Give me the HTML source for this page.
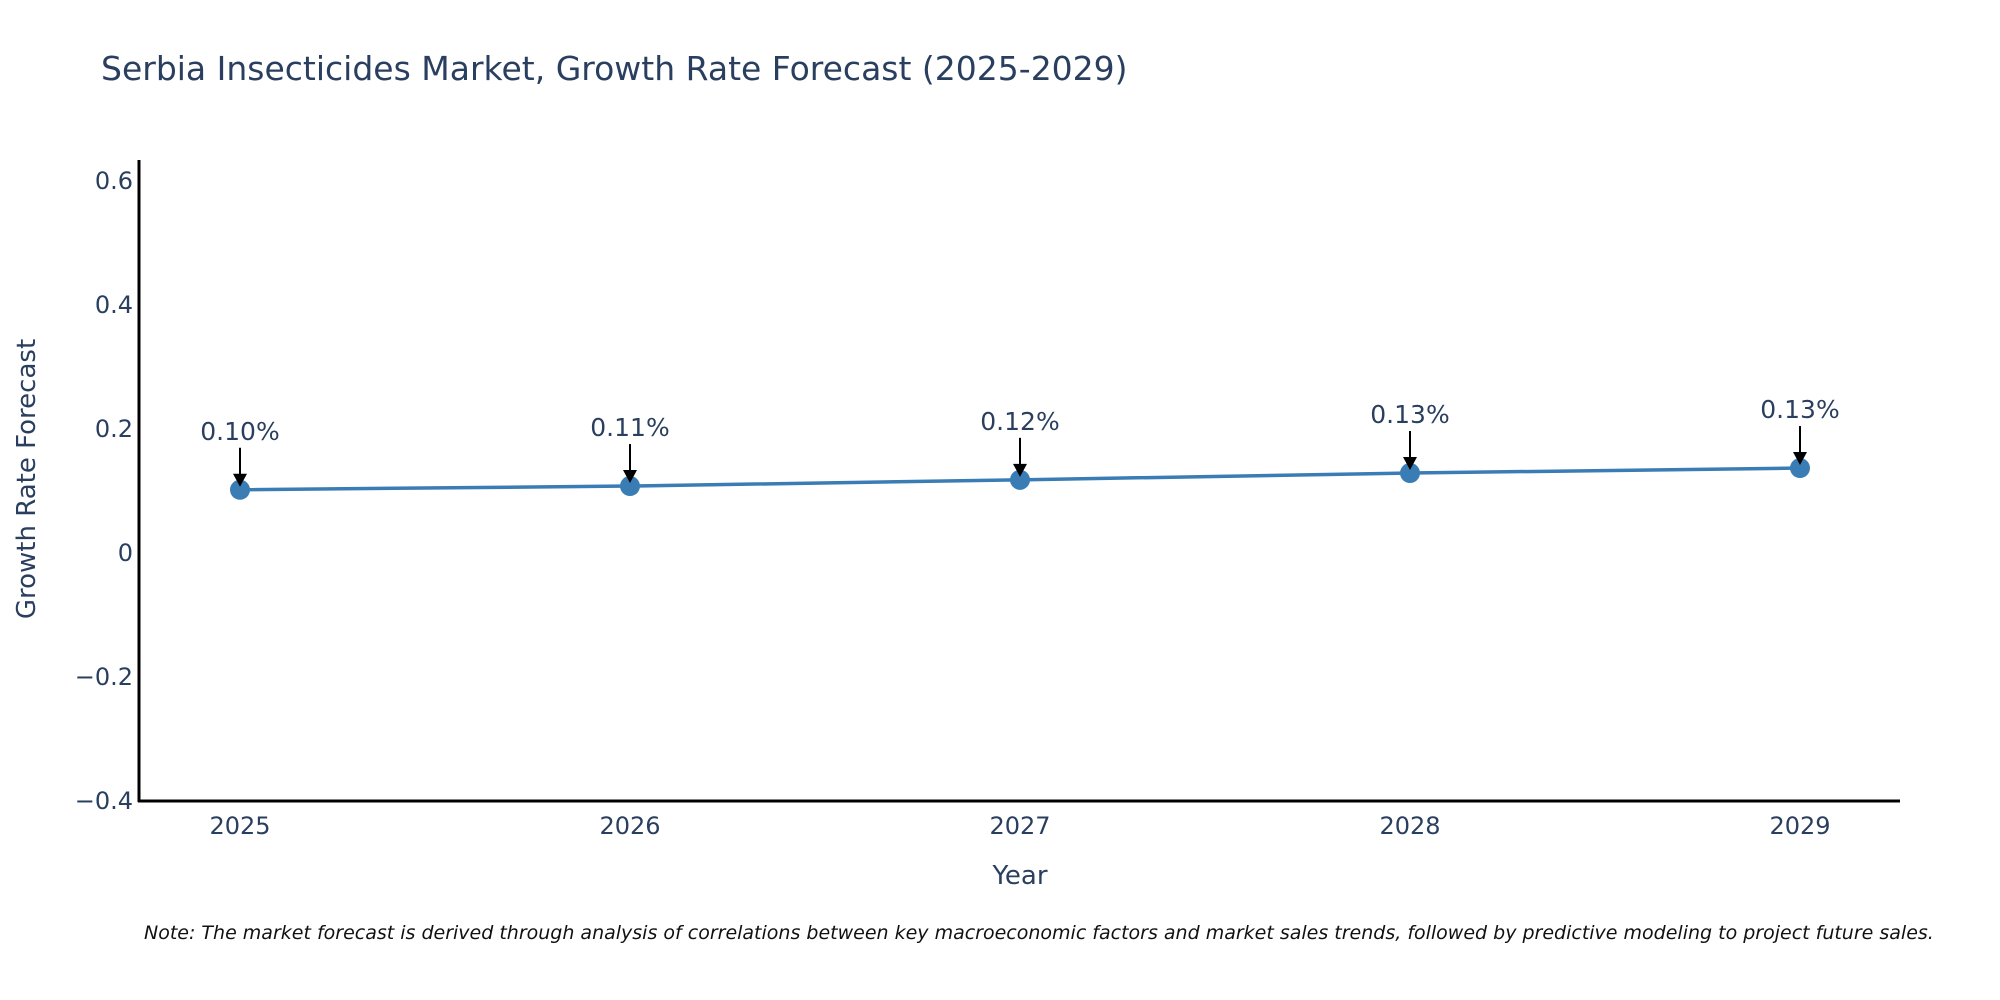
<!DOCTYPE html>
<html><head><meta charset="utf-8">
<style>
html,body{margin:0;padding:0;background:#fff;}
svg{display:block;font-family:"DejaVu Sans","Liberation Sans",sans-serif;}
</style></head>
<body>
<svg id="chart" width="2000" height="1000" viewBox="0 0 2000 1000">
  <rect width="2000" height="1000" fill="#fff"/>
  <text x="101" y="80" font-size="33" fill="#2a3f5f">Serbia Insecticides Market, Growth Rate Forecast (2025-2029)</text>
  <g id="yticks"></g>
  <g id="xticks"></g>
  <line x1="139" y1="160" x2="139" y2="802" stroke="#000" stroke-width="3"/>
  <line x1="138" y1="801" x2="1900" y2="801" stroke="#000" stroke-width="3"/>
  <g id="series"></g>
  <g id="annots"></g>
  <text x="0" y="0" font-size="26" fill="#2a3f5f" text-anchor="middle" transform="translate(35,479) rotate(-90)">Growth Rate Forecast</text>
  <text x="1020" y="884" font-size="26" fill="#2a3f5f" text-anchor="middle">Year</text>
  <text x="144" y="939" font-size="19" font-style="italic" fill="#111">Note: The market forecast is derived through analysis of correlations between key macroeconomic factors and market sales trends, followed by predictive modeling to project future sales.</text>
</svg>
<script>
const years = [2025, 2026, 2027, 2028, 2029];
const growthValues = [0.102, 0.108, 0.118, 0.129, 0.137];
const valueLabels = ["0.10%", "0.11%", "0.12%", "0.13%", "0.13%"];
const yTickValues = [-0.4, -0.2, 0, 0.2, 0.4, 0.6];
const yTickLabels = ["\u22120.4", "\u22120.2", "0", "0.2", "0.4", "0.6"];

const NS = "http://www.w3.org/2000/svg";
function xScale(yr){ return 240 + (yr - 2025) * 390; }
function yScale(v){ return 553 - v * 620; }
function mk(tag, attrs, parent){
  const e = document.createElementNS(NS, tag);
  for (const k in attrs) e.setAttribute(k, attrs[k]);
  parent.appendChild(e);
  return e;
}

const yt = document.getElementById('yticks');
yTickValues.forEach((v, i) => {
  const t = mk('text', {x: 133, y: yScale(v) + 8, 'font-size': 24, fill: '#2a3f5f', 'text-anchor': 'end'}, yt);
  
  
  t.textContent = yTickLabels[i];
});

const xt = document.getElementById('xticks');
years.forEach(yr => {
  const t = mk('text', {x: xScale(yr), y: 834, 'font-size': 24, fill: '#2a3f5f', 'text-anchor': 'middle'}, xt);
  
  
  t.textContent = String(yr);
});

const sg = document.getElementById('series');
const pts = years.map((yr, i) => xScale(yr) + ',' + yScale(growthValues[i])).join(' ');
const line = mk('polyline', {points: pts, fill: 'none', stroke: '#3a7db5', 'stroke-width': 3.5}, sg);


years.forEach((yr, i) => {
  const c = mk('circle', {cx: xScale(yr), cy: yScale(growthValues[i]), r: 10, fill: '#3a7db5'}, sg);
  
  
});

const ag = document.getElementById('annots');
years.forEach((yr, i) => {
  const x = xScale(yr), y = yScale(growthValues[i]);
  const l = mk('line', {x1: x, y1: y - 42, x2: x, y2: y - 14, stroke: '#000', 'stroke-width': 2}, ag);
  
  
  const h = mk('polygon', {points: (x - 7) + ',' + (y - 16) + ' ' + (x + 7) + ',' + (y - 16) + ' ' + x + ',' + (y - 3), fill: '#000'}, ag);
  
  
  const t = mk('text', {x: x, y: y - 50, 'font-size': 25, fill: '#2a3f5f', 'text-anchor': 'middle'}, ag);
  
  
  t.textContent = valueLabels[i];
});
</script>
</body></html>
